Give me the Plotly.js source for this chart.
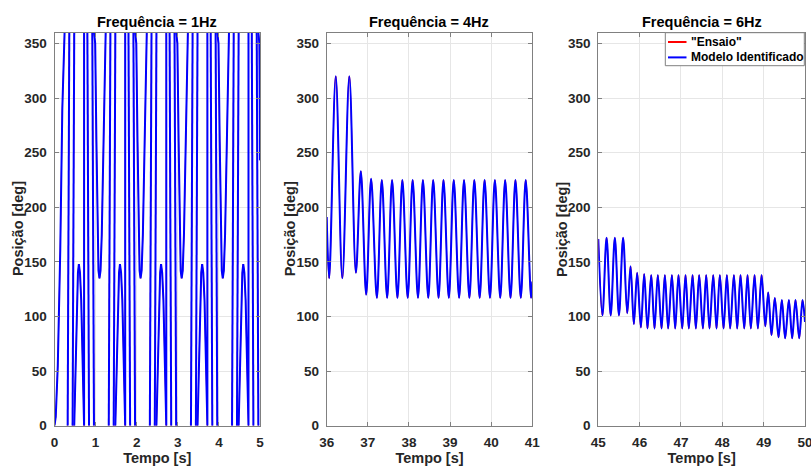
<!DOCTYPE html>
<html><head><meta charset="utf-8">
<script src="https://cdn.plot.ly/plotly-3.0.1.min.js"></script>
<style>html,body{margin:0;padding:0;background:#fff}#chart{width:811px;height:466px}</style>
</head><body><div id="chart"></div>
<script>
// Panel 1: Frequência = 1Hz (wrapped position, 0..360 deg; null = wrap break)
const t1 = [
0,0.03,0.08,0.14,0.19,0.225,0.245,null,
0.32,0.36,null,0.44,0.48,null,0.48,0.51,0.54,0.57,0.593,0.62,0.65,0.69,0.72,0.72,null,0.80,0.84,null,0.92,0.96,null,0.96,0.99,1.02,1.045,1.07,1.094,1.12,1.15,1.19,1.225,1.245,null,
1.32,1.36,null,1.44,1.48,null,1.48,1.51,1.54,1.57,1.593,1.62,1.65,1.69,1.72,1.72,null,1.80,1.84,null,1.92,1.96,null,1.96,1.99,2.02,2.045,2.07,2.094,2.12,2.15,2.19,2.225,2.245,null,
2.32,2.36,null,2.44,2.48,null,2.48,2.51,2.54,2.57,2.593,2.62,2.65,2.69,2.72,2.72,null,2.80,2.84,null,2.92,2.96,null,2.96,2.99,3.02,3.045,3.07,3.094,3.12,3.15,3.19,3.225,3.245,null,
3.32,3.36,null,3.44,3.48,null,3.48,3.51,3.54,3.57,3.593,3.62,3.65,3.69,3.72,3.72,null,3.80,3.84,null,3.92,3.96,null,3.96,3.99,4.02,4.045,4.07,4.094,4.12,4.15,4.19,4.225,4.245,null,
4.32,4.36,null,4.44,4.48,null,4.48,4.51,4.54,4.57,4.593,4.62,4.65,4.69,4.72,4.72,null,4.80,4.84,null,4.92,4.96,null,4.96,4.985,5.0
];
const y1 = [
0,8,55,160,290,350,360,null,
0,360,null,0,360,null,0,50,110,140,148,140,115,55,0,360,null,360,0,null,360,0,null,360,350,260,175,142,135,142,175,260,340,360,null,
0,360,null,0,360,null,0,50,110,140,148,140,115,55,0,360,null,360,0,null,360,0,null,360,350,260,175,142,135,142,175,260,340,360,null,
0,360,null,0,360,null,0,50,110,140,148,140,115,55,0,360,null,360,0,null,360,0,null,360,350,260,175,142,135,142,175,260,340,360,null,
0,360,null,0,360,null,0,50,110,140,148,140,115,55,0,360,null,360,0,null,360,0,null,360,350,260,175,142,135,142,175,260,340,360,null,
0,360,null,0,360,null,0,50,110,140,148,140,115,55,0,360,null,360,0,null,360,0,null,360,350,243
];

// Panel 2: Frequência = 4Hz (peaks / troughs)
const t2 = [36.00,36.06,36.22,36.38,36.55,36.71,36.83,36.96,37.08,37.22,
37.34,37.47,37.59,37.72,37.84,37.97,38.09,38.22,38.34,38.47,38.59,38.72,38.84,38.97,
39.09,39.22,39.34,39.47,39.59,39.72,39.84,39.97,40.09,40.22,40.34,40.47,40.59,40.72,40.84,40.97,41.00];
const y2 = [191,135,320,135,320,140,233,120,226,117,
225,117,225,117,225,117,225,117,225,117,225,117,225,117,
225,117,225,117,225,117,225,117,225,117,225,117,225,117,225,117,132];

// Panel 3: Frequência = 6Hz (peaks / troughs)
const t3 = [45.00,45.10,45.20,45.30,45.40,45.50,45.60,45.70,45.78,45.86,45.94,46.03,
46.11,46.19,46.28,46.36,46.44,46.53,46.61,46.69,46.78,46.86,46.94,47.03,47.11,47.19,47.28,47.36,
47.44,47.53,47.61,47.69,47.78,47.86,47.94,48.03,48.11,48.19,48.28,48.36,48.44,48.53,48.61,48.69,
48.78,48.86,48.95,49.04,49.11,49.19,49.27,49.36,49.44,49.52,49.61,49.69,49.77,49.86,49.94,50.00];
const y3 = [171,101,172,101,172,101,172,103,146,93,140,90,
139,89,138,89,138,89,138,89,138,89,138,89,138,89,138,89,
138,89,138,89,138,89,138,89,138,89,138,89,138,89,138,89,
138,89,138,91,122,83,117,81,115,80,115,80,115,80,115,95];

const panelTitles = ["Frequência = 1Hz","Frequência = 4Hz","Frequência = 6Hz"];
const seriesNames = ['"Ensaio"','Modelo Identificado'];
const xRanges = [[0,5],[36,41],[45,50]];
const xTicks = [[0,1,2,3,4,5],[36,37,38,39,40,41],[45,46,47,48,49,50]];
const yTicks = [0,50,100,150,200,250,300,350];
const xLabel = "Tempo [s]";
const yLabel = "Posição [deg]";

const W = 811, H = 466;
const axL = [54.5,326.7,598.3], axR = [260,532.3,805];
const xd = axL.map((l,i)=>[l/W,axR[i]/W]);
const yd = [(H-425.7)/H,(H-32.5)/H];
const RED = '#ff0000', BLUE = '#0000ff';
const FONT = 'Liberation Sans, Arial, Helvetica, sans-serif';

const data = [];
const sets = [[t1,y1,'linear'],[t2,y2,'spline'],[t3,y3,'spline']];
sets.forEach((s,i)=>{
  const xa = i===0?'x':'x'+(i+1), ya = i===0?'y':'y'+(i+1);
  data.push({x:s[0],y:s[1],xaxis:xa,yaxis:ya,type:'scatter',mode:'lines',name:seriesNames[0],connectgaps:false,
    line:{color:RED,width:1,shape:s[2],smoothing:1},showlegend:false,hoverinfo:'skip'});
  data.push({x:s[0],y:s[1],xaxis:xa,yaxis:ya,type:'scatter',mode:'lines',name:seriesNames[1],connectgaps:false,
    line:{color:BLUE,width:2,shape:s[2],smoothing:1},showlegend:false,hoverinfo:'skip'});
});

const tickFont = {family:FONT,size:13.5,color:'#262626',weight:700};
const titleFont = {family:FONT,size:14.5,color:'#262626',weight:700};
const layout = {
  width:W,height:H,margin:{l:0,r:0,t:0,b:0},paper_bgcolor:'#fff',plot_bgcolor:'#fff',
  showlegend:false,font:{family:FONT},
  annotations:[],shapes:[]
};
for(let i=0;i<3;i++){
  const sx = i===0?'':String(i+1);
  layout['xaxis'+sx] = {domain:xd[i],range:xRanges[i],tickvals:xTicks[i],ticktext:xTicks[i].map(String),
    anchor:'y'+sx,ticks:'inside',ticklen:4,tickcolor:'#808080',showline:true,linecolor:'#808080',linewidth:1,
    mirror:'ticks',showgrid:true,gridcolor:'#e6e6e6',gridwidth:1,zeroline:false,tickfont:tickFont,
    ticklabelstandoff:4,ticklabeloverflow:'allow',fixedrange:true,
    title:{text:xLabel,font:titleFont,standoff:4}};
  layout['yaxis'+sx] = {domain:yd,range:[0,360],tickvals:yTicks,ticktext:yTicks.map(String),
    anchor:'x'+sx,ticks:'inside',ticklen:4,tickcolor:'#808080',showline:true,linecolor:'#808080',linewidth:1,
    mirror:'ticks',showgrid:true,gridcolor:'#e6e6e6',gridwidth:1,zeroline:false,tickfont:tickFont,
    ticklabelstandoff:4,ticklabeloverflow:'allow',fixedrange:true};
  layout.annotations.push({text:yLabel,xref:'paper',yref:'paper',x:(axL[i]-36.5)/W,y:(yd[0]+yd[1])/2,
    xanchor:'center',yanchor:'middle',textangle:-90,showarrow:false,font:titleFont});
  layout.annotations.push({text:panelTitles[i],xref:'paper',yref:'paper',x:(xd[i][0]+xd[i][1])/2,
    y:(H-22)/H,xanchor:'center',yanchor:'middle',showarrow:false,font:{family:FONT,size:14.5,color:'#000',weight:700}});
}
// legend (panel 3, top right)
const lx0=665.3/W, lx1=804.3/W, ly0=(H-65.7)/H, ly1=(H-32.7)/H;
layout.shapes.push({type:'rect',xref:'paper',yref:'paper',x0:lx0,x1:lx1,y0:ly0,y1:ly1,
  line:{color:'#808080',width:1},fillcolor:'#ffffff',layer:'above'});
const legY=[(H-42)/H,(H-57.4)/H], legC=[RED,BLUE];
for(let k=0;k<2;k++){
  layout.shapes.push({type:'line',xref:'paper',yref:'paper',x0:668/W,x1:686.5/W,y0:legY[k],y1:legY[k],
    line:{color:legC[k],width:2},layer:'above'});
  layout.annotations.push({text:seriesNames[k],xref:'paper',yref:'paper',x:688.5/W,y:legY[k],
    xanchor:'left',yanchor:'middle',showarrow:false,font:{family:FONT,size:12,color:'#000',weight:700}});
}
Plotly.newPlot('chart',data,layout,{staticPlot:true,displayModeBar:false});
</script></body></html>
